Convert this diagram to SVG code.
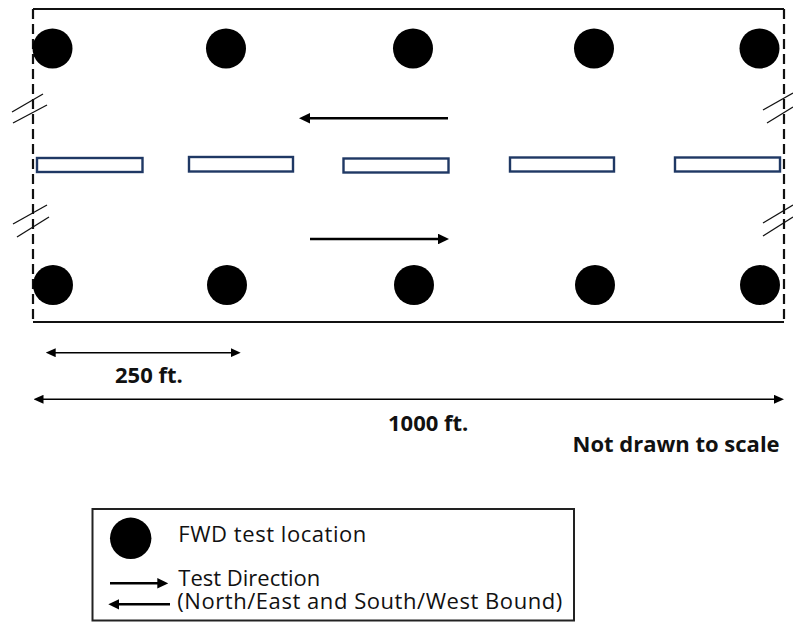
<svg xmlns="http://www.w3.org/2000/svg" width="793" height="622" viewBox="0 0 793 622">
  <style>
    .edge { stroke: #111; stroke-width: 2; fill: none; }
    .dash { stroke: #111; stroke-width: 2.2; stroke-dasharray: 10 5; fill: none; }
    .brk { stroke: #111; stroke-width: 1.3; fill: none; }
    .pt { fill: #000; }
    .slab { fill: #fff; stroke: #1f3864; stroke-width: 2.4; }
    .dir { stroke: #000; stroke-width: 2.6; fill: none; }
    .dim { stroke: #000; stroke-width: 1.4; fill: none; }
    .lbl { font-family: "Open Sans", "Liberation Sans", sans-serif; font-weight: bold; font-size: 22px; fill: #111; }
    .leg { font-family: "Open Sans", "Liberation Sans", sans-serif; font-size: 22px; fill: #111; }
  </style>
  <defs>
    <marker id="headDir" markerUnits="userSpaceOnUse" viewBox="0 0 11 10.6" refX="3" refY="5.3" markerWidth="11" markerHeight="10.6" orient="auto">
      <path d="M0,0 L11,5.3 L0,10.6 z" fill="#000"/>
    </marker>
    <marker id="headDim" markerUnits="userSpaceOnUse" viewBox="0 0 10 9" refX="2" refY="4.5" markerWidth="10" markerHeight="9" orient="auto">
      <path d="M0,0 L10,4.5 L0,9 z" fill="#000"/>
    </marker>
    <marker id="headDimStart" markerUnits="userSpaceOnUse" viewBox="0 0 10 9" refX="8" refY="4.5" markerWidth="10" markerHeight="9" orient="auto">
      <path d="M10,0 L0,4.5 L10,9 z" fill="#000"/>
    </marker>
  </defs>

  <!-- section outline: solid long edges, dashed break ends -->
  <g id="section">
    <line class="edge" x1="33" y1="9" x2="784" y2="9"/>
    <line class="edge" x1="33" y1="322" x2="784" y2="322"/>
    <line class="dash" x1="33" y1="9" x2="33" y2="322"/>
    <line class="dash" x1="784" y1="9" x2="784" y2="322"/>
    <!-- break symbols -->
    <line class="brk" x1="12" y1="112" x2="43" y2="94"/>
    <line class="brk" x1="13" y1="123" x2="47" y2="105"/>
    <line class="brk" x1="13" y1="224" x2="47" y2="205"/>
    <line class="brk" x1="17" y1="237" x2="49" y2="217"/>
    <line class="brk" x1="763" y1="110" x2="793" y2="93"/>
    <line class="brk" x1="767" y1="123" x2="793" y2="107"/>
    <line class="brk" x1="763" y1="223" x2="793" y2="205"/>
    <line class="brk" x1="763" y1="236" x2="793" y2="217"/>
  </g>

  <!-- FWD test locations -->
  <g id="tests-top">
    <circle class="pt" cx="52.5" cy="48.5" r="20"/>
    <circle class="pt" cx="226" cy="48.5" r="20"/>
    <circle class="pt" cx="413" cy="48.5" r="20"/>
    <circle class="pt" cx="594" cy="48.5" r="20"/>
    <circle class="pt" cx="759.5" cy="48.5" r="20"/>
  </g>
  <g id="tests-bottom">
    <circle class="pt" cx="53" cy="285" r="20"/>
    <circle class="pt" cx="227" cy="285" r="20"/>
    <circle class="pt" cx="414" cy="285" r="20"/>
    <circle class="pt" cx="595" cy="285" r="20"/>
    <circle class="pt" cx="760" cy="285" r="20"/>
  </g>

  <!-- lane line markings -->
  <g id="lane-marks">
    <rect class="slab" x="37" y="158" width="105.5" height="14"/>
    <rect class="slab" x="189" y="157" width="104" height="14.5"/>
    <rect class="slab" x="343.5" y="158.5" width="105" height="14"/>
    <rect class="slab" x="510" y="157.5" width="104" height="14"/>
    <rect class="slab" x="675" y="157.5" width="105" height="14"/>
  </g>

  <!-- travel directions and dimensions -->
  <g id="connectors">
    <line class="dir" x1="448" y1="118.3" x2="307" y2="118.3" marker-end="url(#headDir)"/>
    <line class="dir" x1="310" y1="239" x2="441" y2="239" marker-end="url(#headDir)"/>
    <line class="dim" x1="53.7" y1="352.7" x2="232.7" y2="352.7" marker-start="url(#headDimStart)" marker-end="url(#headDim)"/>
    <line class="dim" x1="41.5" y1="399.3" x2="776" y2="399.3" marker-start="url(#headDimStart)" marker-end="url(#headDim)"/>
  </g>

  <g id="labels">
    <text class="lbl" x="115" y="383">250 ft.</text>
    <text class="lbl" x="388" y="430.5">1000 ft.</text>
    <text class="lbl" x="572.5" y="451.5" font-size="20.5">Not drawn to scale</text>
  </g>

  <!-- legend -->
  <g id="legend">
    <rect x="92.5" y="509" width="481.5" height="111.5" fill="#fff" stroke="#222" stroke-width="2"/>
    <circle class="pt" cx="130.7" cy="538.3" r="20.7"/>
    <line class="dir" x1="110" y1="583.3" x2="160.3" y2="583.3" stroke-width="2.2" marker-end="url(#headDir)"/>
    <line class="dir" x1="170" y1="604.3" x2="116.3" y2="604.3" stroke-width="2.2" marker-end="url(#headDir)"/>
    <text class="leg" x="178.3" y="542.3" letter-spacing="0.55">FWD test location</text>
    <text class="leg" x="178.3" y="585.5">Test Direction</text>
    <text class="leg" x="177.3" y="608.8" letter-spacing="0.55">(North/East and South/West Bound)</text>
  </g>
</svg>
